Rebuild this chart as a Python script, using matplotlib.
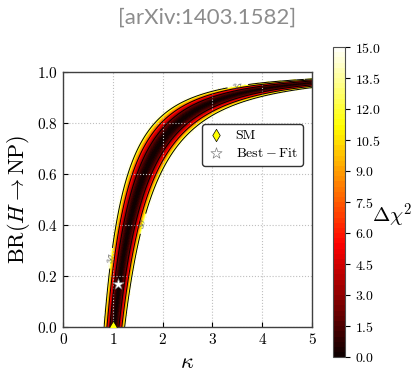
import matplotlib
matplotlib.use("Agg")
import matplotlib.pyplot as plt
import numpy as np

plt.rcParams['font.family'] = 'cmr10'
plt.rcParams['mathtext.fontset'] = 'cm'
plt.rcParams['axes.formatter.use_mathtext'] = True

# fit parameters for the effective coupling kappa*sqrt(1-BR)
kappa_hat = 1.03
kappa_sigma = 0.06
chi2_max = 15.0

# contour levels (1, 2, 3 sigma for two parameters)
sigma_levels = [2.30, 6.18, 11.83]
sigma_names = [r'$1\sigma$', r'$2\sigma$', r'$3\sigma$']
label_spots = [(0.95, 0.27), (1.7, 0.40), (3.5, 0.955)]

# benchmark points
sm_point = (1.0, 0.0)
best_fit = (1.1, 0.17)

cbar_ticks = [0.0, 1.5, 3.0, 4.5, 6.0, 7.5, 9.0, 10.5, 12.0, 13.5, 15.0]

kappa = np.linspace(0, 5, 500)
br = np.linspace(0, 0.999, 500)
K, B = np.meshgrid(kappa, br)
chi2 = ((K * np.sqrt(1 - B) - kappa_hat) / kappa_sigma) ** 2
chi2 = np.ma.masked_greater(chi2, chi2_max)

fig = plt.figure(figsize=(4.15, 3.74), dpi=100)
ax = fig.add_axes([0.152, 0.1257, 0.600, 0.6818])
cax = fig.add_axes([0.802, 0.045, 0.029, 0.829])

cf = ax.contourf(K, B, chi2, levels=np.linspace(0, chi2_max, 61), cmap='hot')
cs = ax.contour(K, B, chi2, levels=sigma_levels, colors='k', linewidths=0.7)
ax.clabel(cs, fmt=dict(zip(sigma_levels, sigma_names)), fontsize=6,
          colors='0.3', manual=label_spots, inline=True)

ax.scatter(*sm_point, marker='d', color='yellow', edgecolors='k',
           linewidths=0.5, s=40, zorder=5, clip_on=True, label='SM')
ax.scatter(*best_fit, marker='*', color='white', edgecolors='0.5',
           linewidths=0.5, s=70, zorder=5, label=r'$\mathrm{Best-Fit}$')

ax.set_xlim(0, 5)
ax.set_ylim(0, 1)
ax.set_xticks(range(6))
ax.set_yticks(np.arange(0, 1.01, 0.2))
ax.grid(True, linestyle=':', color='0.75', linewidth=0.8)
ax.tick_params(labelsize=11, direction='in')
for s in ax.spines.values():
    s.set_color('0.25')
    s.set_linewidth(1.0)
ax.set_xlabel(r'$\kappa$', fontsize=16, labelpad=4)
ax.set_ylabel(r'$\mathrm{BR}(H\to\mathrm{NP})$', fontsize=16)

leg = ax.legend(loc='upper right', bbox_to_anchor=(0.992, 0.824),
                scatterpoints=1, fontsize=10, fancybox=True, framealpha=1,
                handlelength=1.2, handletextpad=0.8, borderpad=0.4,
                labelspacing=0.35)
leg.get_frame().set_edgecolor('0.2')

cb = fig.colorbar(cf, cax=cax, ticks=cbar_ticks)
cb.ax.tick_params(labelsize=10)
cb.set_label(r'$\Delta\chi^2$', rotation=0, fontsize=15)
cb.ax.yaxis.set_label_coords(4.9, 0.5)
cb.outline.set_edgecolor('0.3')

fig.text(0.5, 0.952, '[arXiv:1403.1582]', color='0.55', family='Lato',
         fontsize=16, ha='center', va='center')

fig.savefig('out.png', dpi=100)
